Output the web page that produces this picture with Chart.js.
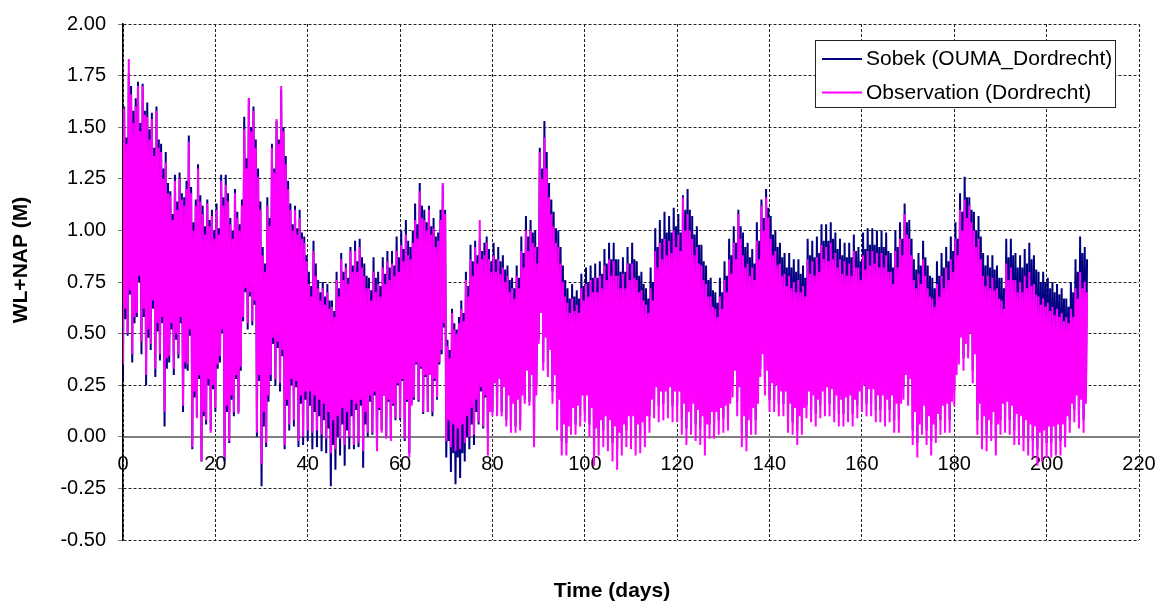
<!DOCTYPE html>
<html>
<head>
<meta charset="utf-8">
<title>WL+NAP Dordrecht</title>
<script src="https://cdn.jsdelivr.net/npm/chart.js@4.4.1/dist/chart.umd.min.js"></script>
<style>
  body { margin: 0; background: #fff; }
  canvas { display: block; }
</style>
</head>
<body>
<canvas id="wlChart" width="1173" height="607"></canvas>
<script>
const seriesLabels = ['Sobek (OUMA_Dordrecht)', 'Observation (Dordrecht)'];
const seriesColors = ['#000080', '#FF00FF'];
const xTicks = [0, 20, 40, 60, 80, 100, 120, 140, 160, 180, 200, 220];
const yTicks = [-0.5, -0.25, 0, 0.25, 0.5, 0.75, 1.0, 1.25, 1.5, 1.75, 2.0];

// water level (m +NAP), day 0..208, two tides a day:
// low at day, high at +0.25, second low at +0.5, second high at +0.75
const sobekLow = [
  0.27, 0.49, 0.36, 0.58, 0.40, 0.25, 0.42, 0.29, 0.37, 0.05,
  0.36, 0.30, 0.38, 0.12, 0.32, -0.06, 0.10, -0.12, 0.06, 0.03,
  0.12, 0.36, -0.12, -0.03, 0.10, 0.12, 0.56, 0.52, 0.54, 0.00,
  -0.24, -0.05, 0.27, 0.25, 0.22, -0.06, 0.03, 0.05, -0.05, -0.04,
  -0.02, -0.06, -0.05, -0.07, -0.08, -0.24, -0.16, -0.09, -0.14, -0.06,
  -0.06, -0.05, -0.15, 0.00, 0.01, -0.06, 0.03, 0.00, -0.01, 0.08,
  0.08, -0.02, -0.08, 0.18, 0.17, 0.11, 0.12, 0.10, 0.18, 0.40,
  -0.10, -0.17, -0.23, -0.20, -0.12, -0.06, -0.04, 0.06, 0.04, 0.02,
  0.12, 0.13, 0.12, 0.08, 0.05, 0.05, 0.06, 0.18, 0.17, 0.00,
  0.47, 0.36, 0.33, 0.22, 0.08, -0.02, -0.03, 0.06, 0.06, 0.10,
  0.12, 0.06, -0.04, 0.00, 0.03, 0.01, -0.03, -0.06, 0.00, 0.03,
  0.03, 0.00, 0.01, 0.04, 0.10, 0.16, 0.15, 0.16, 0.17, 0.15,
  0.15, 0.09, 0.04, 0.08, 0.06, 0.04, 0.00, 0.06, 0.07, 0.08,
  0.09, 0.10, 0.25, 0.17, 0.02, 0.00, 0.07, 0.08, 0.33, 0.26,
  0.18, 0.18, 0.16, 0.16, 0.09, 0.07, 0.03, 0.07, 0.15, 0.13,
  0.11, 0.15, 0.16, 0.16, 0.13, 0.11, 0.11, 0.13, 0.11, 0.15,
  0.18, 0.16, 0.16, 0.13, 0.13, 0.11, 0.13, 0.08, 0.08, 0.24,
  0.21, 0.03, -0.03, 0.08, 0.03, -0.02, 0.04, 0.08, 0.09, 0.08,
  0.22, 0.40, 0.38, 0.42, 0.32, 0.08, 0.02, 0.01, 0.06, -0.01,
  0.08, 0.09, 0.08, 0.03, 0.03, 0.00, -0.02, -0.02, -0.06, -0.04,
  -0.03, -0.03, -0.02, -0.02, 0.02, 0.08, 0.13, 0.10, 0.08
];
const sobekHigh = [
  1.60, 1.76, 1.58, 1.72, 1.71, 1.62, 1.57, 1.60, 1.42, 1.38,
  1.19, 1.27, 1.28, 1.16, 1.46, 1.04, 1.32, 1.12, 1.15, 1.10,
  1.13, 1.27, 1.27, 1.06, 1.20, 1.03, 1.55, 1.64, 1.60, 1.30,
  0.92, 1.16, 1.42, 1.53, 1.68, 1.36, 1.13, 1.12, 1.10, 0.97,
  0.80, 0.95, 0.76, 0.75, 0.74, 0.66, 0.80, 0.89, 0.84, 0.92,
  0.95, 0.96, 0.84, 0.77, 0.87, 0.80, 0.87, 0.90, 0.90, 0.97,
  1.00, 1.05, 0.92, 1.13, 1.23, 1.10, 1.12, 1.06, 0.99, 1.22,
  0.47, 0.62, 0.52, 0.66, 0.80, 0.93, 0.95, 0.96, 0.94, 0.91,
  0.94, 0.92, 0.88, 0.83, 0.77, 0.83, 0.97, 1.07, 1.05, 1.00,
  1.40, 1.53, 1.23, 1.09, 1.00, 0.83, 0.72, 0.74, 0.71, 0.79,
  0.82, 0.83, 0.84, 0.85, 0.91, 0.94, 0.94, 0.86, 0.87, 0.92,
  0.94, 0.85, 0.80, 0.72, 0.82, 1.01, 1.05, 1.09, 1.07, 1.11,
  1.08, 1.17, 1.20, 1.07, 1.02, 0.93, 0.83, 0.77, 0.70, 0.77,
  0.85, 0.96, 1.02, 1.10, 0.99, 0.94, 0.91, 1.04, 1.15, 1.20,
  1.07, 1.00, 0.94, 0.89, 0.89, 0.86, 0.86, 0.83, 0.96, 0.95,
  0.97, 1.03, 1.03, 1.04, 0.99, 0.96, 0.94, 0.94, 0.98, 0.92,
  0.99, 1.01, 1.01, 1.00, 1.00, 0.99, 0.89, 1.00, 1.04, 1.13,
  1.05, 0.86, 0.89, 0.95, 0.83, 0.77, 0.85, 0.89, 0.92, 0.97,
  1.04, 1.18, 1.26, 1.16, 1.09, 1.07, 0.89, 0.88, 0.88, 0.83,
  0.77, 0.96, 0.96, 0.89, 0.88, 0.91, 0.94, 0.88, 0.80, 0.80,
  0.77, 0.75, 0.74, 0.72, 0.67, 0.75, 0.86, 0.97, 0.92
];
const sobekLow2 = [
  0.57, 0.69, 0.55, 0.75, 0.58, 0.48, 0.62, 0.51, 0.55, 0.33,
  0.52, 0.47, 0.55, 0.33, 0.49, 0.19, 0.28, 0.10, 0.25, 0.23,
  0.33, 0.50, 0.12, 0.18, 0.28, 0.32, 0.70, 0.68, 0.64, 0.27,
  0.05, 0.17, 0.45, 0.43, 0.39, 0.15, 0.25, 0.24, 0.16, 0.18,
  0.15, 0.12, 0.10, 0.08, 0.04, -0.04, 0.00, 0.06, 0.03, 0.10,
  0.13, 0.15, 0.06, 0.17, 0.20, 0.13, 0.20, 0.17, 0.15, 0.25,
  0.27, 0.17, 0.16, 0.35, 0.33, 0.29, 0.30, 0.27, 0.35, 0.53,
  -0.02, -0.08, -0.10, -0.08, 0.00, 0.06, 0.12, 0.22, 0.19, 0.16,
  0.29, 0.31, 0.27, 0.23, 0.19, 0.21, 0.23, 0.35, 0.33, 0.24,
  0.62, 0.52, 0.46, 0.35, 0.23, 0.12, 0.11, 0.20, 0.21, 0.26,
  0.26, 0.20, 0.12, 0.16, 0.18, 0.16, 0.13, 0.10, 0.14, 0.18,
  0.18, 0.15, 0.16, 0.19, 0.26, 0.31, 0.30, 0.30, 0.32, 0.30,
  0.30, 0.24, 0.20, 0.24, 0.21, 0.18, 0.14, 0.19, 0.19, 0.21,
  0.22, 0.23, 0.38, 0.30, 0.17, 0.15, 0.21, 0.23, 0.45, 0.38,
  0.32, 0.31, 0.29, 0.28, 0.22, 0.21, 0.17, 0.21, 0.29, 0.27,
  0.25, 0.29, 0.30, 0.30, 0.27, 0.25, 0.25, 0.27, 0.25, 0.29,
  0.32, 0.30, 0.30, 0.27, 0.27, 0.25, 0.27, 0.22, 0.22, 0.37,
  0.35, 0.19, 0.13, 0.22, 0.17, 0.13, 0.18, 0.22, 0.23, 0.23,
  0.37, 0.53, 0.51, 0.55, 0.46, 0.23, 0.17, 0.16, 0.20, 0.14,
  0.23, 0.24, 0.22, 0.18, 0.17, 0.15, 0.13, 0.13, 0.10, 0.11,
  0.12, 0.12, 0.13, 0.13, 0.17, 0.23, 0.27, 0.25, 0.23
];
const sobekHigh2 = [
  1.45, 1.70, 1.64, 1.52, 1.58, 1.49, 1.40, 1.44, 1.30, 1.23,
  1.08, 1.14, 1.18, 1.24, 1.21, 1.15, 1.17, 1.02, 1.05, 1.00,
  1.01, 1.16, 1.18, 1.00, 1.09, 1.15, 1.35, 1.50, 1.44, 1.14,
  0.84, 1.06, 1.30, 1.44, 1.50, 1.24, 1.03, 1.01, 0.99, 0.88,
  0.73, 0.84, 0.70, 0.68, 0.66, 0.61, 0.72, 0.80, 0.77, 0.83,
  0.85, 0.87, 0.78, 0.71, 0.77, 0.73, 0.79, 0.82, 0.83, 0.87,
  0.91, 0.95, 1.00, 1.03, 1.12, 1.04, 1.02, 0.97, 1.10, 1.10,
  0.42, 0.55, 0.58, 0.60, 0.73, 0.85, 0.88, 0.90, 0.97, 0.85,
  0.86, 0.85, 0.81, 0.76, 0.72, 0.77, 0.89, 0.97, 0.99, 0.92,
  1.30, 1.38, 1.15, 1.01, 0.92, 0.76, 0.67, 0.68, 0.67, 0.73,
  0.75, 0.77, 0.77, 0.79, 0.84, 0.86, 0.86, 0.80, 0.80, 0.84,
  0.86, 0.78, 0.74, 0.67, 0.75, 0.92, 0.96, 0.99, 0.99, 1.02,
  0.99, 1.10, 1.10, 0.98, 0.93, 0.85, 0.76, 0.71, 0.65, 0.70,
  0.78, 0.88, 0.94, 1.02, 0.92, 0.87, 0.84, 0.95, 1.06, 1.11,
  0.98, 0.92, 0.87, 0.82, 0.82, 0.80, 0.79, 0.77, 0.88, 0.87,
  0.89, 0.95, 0.95, 0.96, 0.91, 0.88, 0.87, 0.87, 0.90, 0.85,
  0.91, 0.93, 0.93, 0.92, 0.92, 0.90, 0.82, 0.92, 0.96, 1.04,
  0.96, 0.81, 0.83, 0.87, 0.78, 0.72, 0.78, 0.82, 0.85, 0.90,
  0.96, 1.09, 1.16, 1.10, 1.00, 0.97, 0.83, 0.82, 0.81, 0.77,
  0.72, 0.87, 0.88, 0.82, 0.82, 0.84, 0.86, 0.81, 0.75, 0.75,
  0.72, 0.70, 0.69, 0.67, 0.63, 0.70, 0.80, 0.89, 0.86
];
const obsLow = [
  0.35, 0.50, 0.40, 0.60, 0.46, 0.30, 0.45, 0.33, 0.40, 0.12,
  0.39, 0.33, 0.40, 0.15, 0.35, -0.05, 0.09, -0.12, 0.08, 0.02,
  0.14, 0.39, -0.10, -0.02, 0.12, 0.11, 0.58, 0.55, 0.56, 0.02,
  -0.13, -0.03, 0.30, 0.28, 0.26, -0.04, 0.06, 0.08, -0.02, 0.00,
  0.03, 0.02, 0.03, 0.01, -0.01, -0.08, -0.06, -0.01, -0.04, 0.00,
  -0.04, -0.03, -0.07, 0.02, 0.02, -0.07, 0.02, -0.01, -0.02, 0.09,
  0.09, -0.01, -0.10, 0.19, 0.18, 0.12, 0.12, 0.12, 0.19, 0.42,
  -0.02, -0.05, -0.07, -0.06, -0.03, 0.00, 0.01, 0.07, 0.05, -0.09,
  0.10, 0.10, 0.10, 0.05, 0.02, 0.02, 0.03, 0.16, 0.15, -0.05,
  0.45, 0.32, 0.29, 0.16, 0.03, -0.09, -0.09, 0.01, 0.01, 0.05,
  0.07, 0.00, -0.14, -0.09, -0.05, -0.07, -0.12, -0.16, -0.09, -0.05,
  -0.06, -0.09, -0.08, -0.05, 0.02, 0.09, 0.07, 0.08, 0.09, 0.07,
  0.07, 0.01, -0.04, 0.01, -0.02, -0.04, -0.09, -0.01, -0.01, 0.01,
  0.02, 0.03, 0.19, 0.10, -0.05, -0.07, 0.01, 0.01, 0.29, 0.20,
  0.12, 0.12, 0.10, 0.10, 0.02, 0.01, -0.04, 0.01, 0.09, 0.07,
  0.05, 0.09, 0.10, 0.10, 0.07, 0.05, 0.05, 0.07, 0.05, 0.09,
  0.12, 0.10, 0.10, 0.07, 0.07, 0.05, 0.07, 0.02, 0.02, 0.18,
  0.15, -0.04, -0.10, 0.01, -0.04, -0.09, -0.03, 0.01, 0.02, 0.02,
  0.15, 0.35, 0.32, 0.38, 0.26, 0.01, -0.06, -0.07, -0.02, -0.09,
  0.01, 0.02, 0.01, -0.04, -0.04, -0.07, -0.09, -0.10, -0.14, -0.12,
  -0.10, -0.10, -0.09, -0.09, -0.05, 0.02, 0.07, 0.04, 0.02
];
const obsHigh = [
  1.59, 1.83, 1.52, 1.70, 1.70, 1.55, 1.54, 1.58, 1.38, 1.33,
  1.17, 1.24, 1.25, 1.12, 1.43, 1.00, 1.30, 1.08, 1.13, 1.07,
  1.10, 1.24, 1.22, 1.03, 1.18, 1.00, 1.49, 1.64, 1.58, 1.26,
  0.88, 1.12, 1.40, 1.54, 1.70, 1.32, 1.10, 1.10, 1.06, 0.94,
  0.74, 0.90, 0.72, 0.72, 0.70, 0.63, 0.76, 0.86, 0.82, 0.90,
  0.90, 0.92, 0.78, 0.72, 0.80, 0.74, 0.82, 0.85, 0.84, 0.90,
  0.93, 0.98, 0.86, 1.05, 1.19, 1.05, 1.10, 1.01, 0.95, 1.23,
  0.44, 0.60, 0.50, 0.62, 0.76, 0.86, 0.92, 1.05, 0.88, 0.86,
  0.88, 0.86, 0.82, 0.78, 0.72, 0.78, 0.90, 1.00, 1.00, 0.92,
  1.38, 1.45, 1.16, 1.02, 0.92, 0.75, 0.65, 0.67, 0.64, 0.72,
  0.74, 0.76, 0.77, 0.78, 0.83, 0.86, 0.85, 0.78, 0.79, 0.84,
  0.84, 0.76, 0.71, 0.64, 0.72, 0.90, 0.94, 0.96, 0.95, 1.00,
  0.98, 1.16, 1.08, 0.96, 0.92, 0.83, 0.74, 0.68, 0.62, 0.68,
  0.76, 0.86, 0.94, 1.08, 0.88, 0.84, 0.82, 0.95, 1.12, 1.16,
  0.96, 0.90, 0.84, 0.79, 0.78, 0.75, 0.76, 0.73, 0.86, 0.85,
  0.87, 0.93, 0.92, 0.94, 0.89, 0.86, 0.85, 0.84, 0.90, 0.82,
  0.88, 0.90, 0.90, 0.89, 0.89, 0.88, 0.80, 0.90, 0.96, 1.08,
  0.96, 0.76, 0.79, 0.86, 0.72, 0.67, 0.74, 0.78, 0.82, 0.86,
  0.96, 1.10, 1.15, 1.12, 1.00, 0.96, 0.78, 0.78, 0.77, 0.72,
  0.66, 0.84, 0.82, 0.76, 0.75, 0.78, 0.80, 0.74, 0.68, 0.67,
  0.65, 0.63, 0.62, 0.60, 0.58, 0.62, 0.72, 0.80, 0.75
];
const obsLow2 = [
  0.62, 0.71, 0.58, 0.78, 0.62, 0.52, 0.66, 0.55, 0.58, 0.38,
  0.55, 0.50, 0.58, 0.36, 0.52, 0.22, 0.30, 0.12, 0.28, 0.25,
  0.35, 0.52, 0.15, 0.20, 0.30, 0.34, 0.72, 0.70, 0.66, 0.30,
  0.12, 0.20, 0.48, 0.46, 0.42, 0.18, 0.28, 0.27, 0.20, 0.22,
  0.22, 0.20, 0.18, 0.16, 0.12, 0.08, 0.10, 0.14, 0.12, 0.18,
  0.16, 0.18, 0.12, 0.20, 0.22, 0.14, 0.20, 0.18, 0.16, 0.26,
  0.28, 0.18, 0.15, 0.36, 0.34, 0.30, 0.30, 0.28, 0.36, 0.55,
  0.08, 0.06, 0.04, 0.06, 0.10, 0.14, 0.18, 0.24, 0.20, 0.12,
  0.26, 0.28, 0.24, 0.20, 0.16, 0.18, 0.20, 0.32, 0.30, 0.20,
  0.60, 0.48, 0.42, 0.30, 0.18, 0.06, 0.05, 0.14, 0.15, 0.20,
  0.20, 0.14, 0.04, 0.08, 0.10, 0.08, 0.05, 0.02, 0.06, 0.10,
  0.10, 0.06, 0.07, 0.10, 0.18, 0.24, 0.22, 0.22, 0.24, 0.22,
  0.22, 0.16, 0.12, 0.16, 0.13, 0.10, 0.06, 0.12, 0.12, 0.14,
  0.15, 0.16, 0.32, 0.24, 0.10, 0.08, 0.14, 0.16, 0.40, 0.32,
  0.26, 0.25, 0.22, 0.22, 0.16, 0.14, 0.10, 0.14, 0.22, 0.20,
  0.18, 0.22, 0.24, 0.23, 0.20, 0.18, 0.19, 0.20, 0.18, 0.22,
  0.25, 0.23, 0.23, 0.20, 0.20, 0.18, 0.20, 0.16, 0.16, 0.30,
  0.28, 0.12, 0.06, 0.15, 0.10, 0.06, 0.11, 0.15, 0.16, 0.17,
  0.30, 0.48, 0.45, 0.50, 0.40, 0.16, 0.10, 0.08, 0.12, 0.06,
  0.16, 0.17, 0.15, 0.11, 0.10, 0.08, 0.06, 0.05, 0.02, 0.03,
  0.05, 0.05, 0.06, 0.06, 0.10, 0.16, 0.20, 0.18, 0.16
];
const obsHigh2 = [
  1.42, 1.66, 1.60, 1.48, 1.56, 1.44, 1.36, 1.40, 1.25, 1.18,
  1.05, 1.10, 1.15, 1.20, 1.18, 1.12, 1.14, 0.98, 1.02, 0.96,
  0.98, 1.12, 1.14, 0.96, 1.06, 1.12, 1.30, 1.48, 1.40, 1.10,
  0.80, 1.02, 1.28, 1.42, 1.48, 1.20, 1.00, 0.98, 0.96, 0.85,
  0.68, 0.78, 0.66, 0.64, 0.62, 0.58, 0.68, 0.76, 0.74, 0.80,
  0.80, 0.82, 0.72, 0.66, 0.70, 0.68, 0.74, 0.76, 0.78, 0.80,
  0.85, 0.88, 0.94, 0.96, 1.06, 1.00, 0.98, 0.92, 1.05, 1.08,
  0.38, 0.52, 0.55, 0.56, 0.68, 0.78, 0.84, 0.86, 0.94, 0.80,
  0.80, 0.79, 0.75, 0.70, 0.67, 0.72, 0.82, 0.90, 0.94, 0.84,
  1.25, 1.30, 1.08, 0.94, 0.84, 0.68, 0.60, 0.61, 0.60, 0.66,
  0.68, 0.70, 0.70, 0.72, 0.76, 0.78, 0.78, 0.72, 0.72, 0.76,
  0.77, 0.70, 0.66, 0.60, 0.66, 0.82, 0.86, 0.88, 0.89, 0.92,
  0.90, 1.00, 1.00, 0.88, 0.84, 0.76, 0.68, 0.63, 0.58, 0.62,
  0.70, 0.79, 0.86, 0.96, 0.82, 0.78, 0.76, 0.86, 1.00, 1.06,
  0.88, 0.83, 0.78, 0.73, 0.72, 0.70, 0.70, 0.68, 0.79, 0.78,
  0.80, 0.86, 0.85, 0.86, 0.82, 0.79, 0.78, 0.78, 0.82, 0.76,
  0.81, 0.83, 0.84, 0.82, 0.82, 0.80, 0.74, 0.82, 0.88, 0.98,
  0.88, 0.72, 0.74, 0.78, 0.68, 0.63, 0.68, 0.72, 0.76, 0.80,
  0.88, 1.00, 1.06, 1.04, 0.92, 0.86, 0.73, 0.72, 0.71, 0.67,
  0.62, 0.76, 0.76, 0.70, 0.70, 0.72, 0.73, 0.69, 0.64, 0.63,
  0.61, 0.59, 0.58, 0.56, 0.55, 0.58, 0.67, 0.72, 0.70
];

function tidePoints(low, high, low2, high2) {
  const pts = [];
  low.forEach((lo, day) => {
    pts.push({x: day, y: lo});
    pts.push({x: day + 0.25, y: high[day]});
    pts.push({x: day + 0.5, y: low2[day]});
    pts.push({x: day + 0.75, y: high2[day]});
  });
  return pts;
}

const FONT = '"Liberation Sans", Arial, sans-serif';

// legend box drawn inside the plot, upper right
const boxLegend = {
  id: 'boxLegend',
  afterDraw(chart) {
    const ctx = chart.ctx;
    const left = 815, top = 40, width = 300, height = 67;
    ctx.save();
    ctx.fillStyle = '#fff';
    ctx.fillRect(left, top, width, height);
    ctx.strokeStyle = '#222';
    ctx.lineWidth = 1;
    ctx.strokeRect(left + 0.5, top + 0.5, width, height);
    ctx.font = '21px ' + FONT;
    ctx.textBaseline = 'alphabetic';
    ctx.textAlign = 'left';
    chart.data.datasets.forEach((ds, i) => {
      const rowY = top + 19 + i * 33.5;
      ctx.strokeStyle = ds.borderColor;
      ctx.lineWidth = 2;
      ctx.beginPath();
      ctx.moveTo(left + 7, rowY);
      ctx.lineTo(left + 47, rowY);
      ctx.stroke();
      ctx.fillStyle = '#000';
      ctx.fillText(ds.label, left + 51, rowY + 6);
    });
    ctx.restore();
  }
};

const axisTitles = {
  id: 'axisTitles',
  afterDraw(chart) {
    const ctx = chart.ctx;
    ctx.save();
    ctx.fillStyle = '#000';
    ctx.font = 'bold 21px ' + FONT;
    ctx.textAlign = 'center';
    ctx.textBaseline = 'middle';
    ctx.fillText('Time (days)', 612, 591);
    ctx.translate(21, 260);
    ctx.rotate(-Math.PI / 2);
    ctx.fillText('WL+NAP (M)', 0, 0);
    ctx.restore();
  }
};

const data = {
  datasets: [{
    label: seriesLabels[0],
    data: tidePoints(sobekLow, sobekHigh, sobekLow2, sobekHigh2),
    borderColor: seriesColors[0],
    order: 1
  }, {
    label: seriesLabels[1],
    data: tidePoints(obsLow, obsHigh, obsLow2, obsHigh2),
    borderColor: seriesColors[1],
    order: 0
  }]
};

const config = {
  type: 'line',
  data: data,
  options: {
    responsive: false,
    animation: false,
    parsing: false,
    normalized: true,
    layout: {
      padding: { left: 0, top: 14, right: 34, bottom: 67 }
    },
    elements: {
      point: { radius: 0 },
      line: { borderWidth: 2, tension: 0 }
    },
    scales: {
      x: {
        type: 'linear',
        position: { y: 0 },
        min: xTicks[0],
        max: xTicks[xTicks.length - 1],
        afterBuildTicks: scale => { scale.ticks = xTicks.map(v => ({ value: v })); },
        grid: { color: '#222', drawTicks: false },
        border: { display: true, color: '#808080', width: 2, dash: [3, 2] },
        ticks: {
          color: '#000',
          padding: 16,
          maxRotation: 0,
          font: { family: FONT, size: 20 }
        }
      },
      y: {
        type: 'linear',
        min: yTicks[0],
        max: yTicks[yTicks.length - 1],
        afterBuildTicks: scale => { scale.ticks = yTicks.map(v => ({ value: v })); },
        afterFit: scale => { scale.width = 123; },
        grid: {
          color: ctx => (ctx.tick && ctx.tick.value === 0) ? 'rgba(0,0,0,0)' : '#222',
          tickColor: '#808080',
          tickLength: 5,
          tickBorderDash: []
        },
        border: { display: true, color: '#000', width: 1.5, dash: [3, 2] },
        ticks: {
          color: '#000',
          padding: 12,
          font: { family: FONT, size: 20 },
          callback: v => v.toFixed(2)
        }
      }
    },
    plugins: {
      legend: { display: false },
      tooltip: { enabled: false }
    }
  },
  plugins: [boxLegend, axisTitles]
};

const ctx = document.getElementById('wlChart').getContext('2d');
const wlChart = new Chart(ctx, config);
</script>
</body>
</html>
